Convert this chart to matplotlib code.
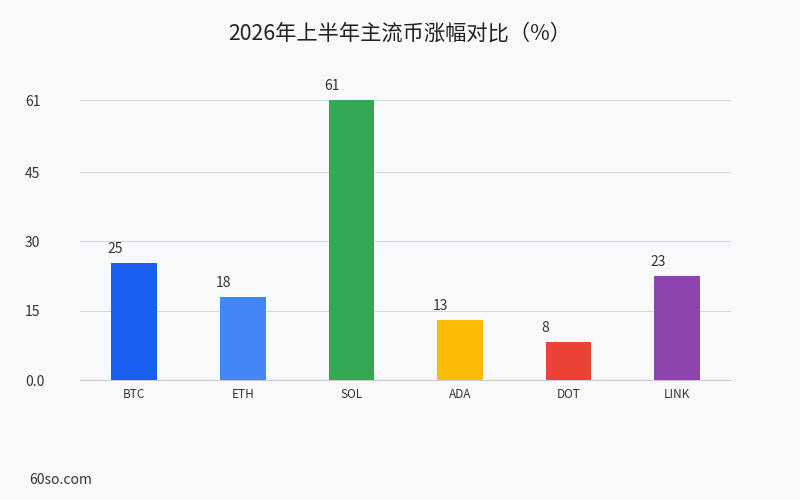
import matplotlib
matplotlib.use("Agg")
import matplotlib.pyplot as plt

plt.rcParams['font.family'] = ['Noto Sans CJK SC', 'DejaVu Sans']

categories = ["BTC", "ETH", "SOL", "ADA", "DOT", "LINK"]
values = [25.3, 18.0, 60.6, 12.9, 8.2, 22.6]
colors = ["#1b5ff0", "#4287f5", "#34a853", "#fbbc05", "#ea4335", "#8e44ad"]
ytick_values = [0, 15, 30, 45, 60.6]
ytick_labels = ["0.0", "15", "30", "45", "61"]
title = "2026年上半年主流币涨幅对比（%）"

bg = "#f8f9fb"
fig = plt.figure(figsize=(8, 5), dpi=100, facecolor=bg)
ax = fig.add_axes([0.1, 0.24, 0.814, 0.56], facecolor=bg)

x = list(range(len(categories)))
width = 0.42
ax.bar(x, values, width=width, color=colors, zorder=3)

for xi, v in zip(x, values):
    ax.annotate(f"{v:.0f}", xy=(xi - width / 2, v), xytext=(-3, 5),
                textcoords="offset points", ha="left", va="bottom",
                fontsize=10, color="#333333")

ax.set_xlim(-0.5, len(categories) - 0.5)
ax.set_ylim(0, 60.6)
ax.set_yticks(ytick_values)
ax.set_yticklabels(ytick_labels)
ax.set_xticks(x)
ax.set_xticklabels(categories)

ax.grid(axis="y", color="#d3d8e0", linewidth=0.8, zorder=0)
for s in ["top", "right", "left"]:
    ax.spines[s].set_visible(False)
ax.spines["bottom"].set_color("#c8ccd4")
ax.spines["bottom"].set_linewidth(0.8)

ax.tick_params(axis="y", length=0, pad=39.6, labelsize=10, labelcolor="#333333")
for lab in ax.get_yticklabels():
    lab.set_horizontalalignment("left")
ax.tick_params(axis="x", length=0, pad=6, labelsize=8.5, labelcolor="#333333")

fig.text(0.5, 0.932, title, ha="center", va="center", fontsize=15.3, color="#222222")
fig.text(0.037, 0.04, "60so.com", ha="left", va="center", fontsize=10, color="#333333")

fig.savefig("out.png", dpi=100, facecolor=bg)
